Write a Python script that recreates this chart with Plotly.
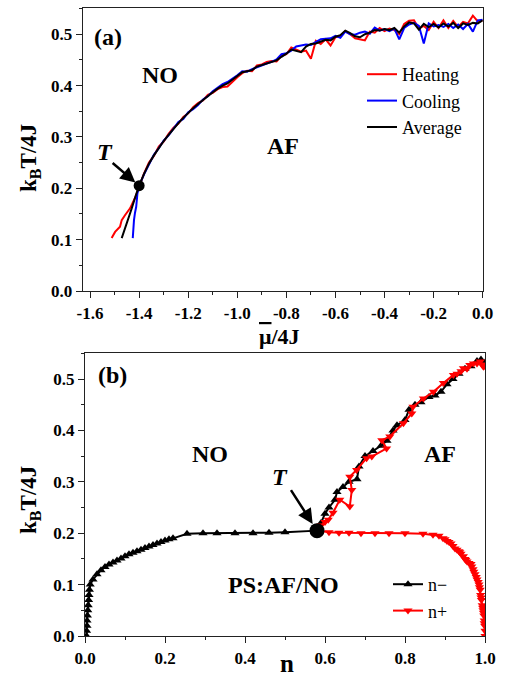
import plotly.graph_objects as go

# ---------------- panel (a) data ----------------
mu_upper = [-1.40, -1.38, -1.36, -1.34, -1.32, -1.30, -1.28, -1.26, -1.24, -1.22,
            -1.20, -1.18, -1.16, -1.14, -1.12, -1.10, -1.08, -1.06, -1.04, -1.02,
            -1.00, -0.98, -0.96, -0.94, -0.92, -0.90, -0.88, -0.86, -0.84, -0.82,
            -0.80, -0.78, -0.76, -0.74, -0.72, -0.70, -0.68, -0.66, -0.64, -0.62,
            -0.60, -0.58, -0.56, -0.54, -0.52, -0.50, -0.48, -0.46, -0.44, -0.42,
            -0.40, -0.38, -0.36, -0.34, -0.32, -0.30, -0.28, -0.26, -0.24, -0.22,
            -0.20, -0.18, -0.16, -0.14, -0.12, -0.10, -0.08, -0.06, -0.04, -0.02, 0.00]

avg_upper = [0.205, 0.228, 0.248, 0.264, 0.279, 0.292, 0.304, 0.316, 0.327, 0.337,
             0.347, 0.356, 0.364, 0.372, 0.380, 0.387, 0.394, 0.400, 0.404, 0.411,
             0.418, 0.426, 0.428, 0.430, 0.437, 0.440, 0.444, 0.447, 0.449, 0.456,
             0.462, 0.470, 0.468, 0.465, 0.476, 0.481, 0.482, 0.486, 0.489, 0.488,
             0.495, 0.498, 0.507, 0.502, 0.496, 0.494, 0.500, 0.503, 0.508, 0.507,
             0.510, 0.508, 0.512, 0.503, 0.515, 0.523, 0.521, 0.509, 0.520, 0.514,
             0.520, 0.513, 0.521, 0.515, 0.522, 0.512, 0.521, 0.518, 0.522, 0.521, 0.527]

heat_upper = [0.205, 0.229, 0.250, 0.263, 0.281, 0.291, 0.306, 0.318, 0.326, 0.339,
              0.346, 0.358, 0.366, 0.371, 0.382, 0.386, 0.393, 0.397, 0.398, 0.408,
              0.416, 0.424, 0.429, 0.428, 0.439, 0.441, 0.446, 0.448, 0.447, 0.458,
              0.461, 0.474, 0.470, 0.466, 0.468, 0.452, 0.487, 0.481, 0.490, 0.478,
              0.494, 0.497, 0.506, 0.500, 0.492, 0.490, 0.488, 0.505, 0.503, 0.512,
              0.506, 0.511, 0.508, 0.500, 0.520, 0.526, 0.527, 0.511, 0.516, 0.508,
              0.524, 0.512, 0.527, 0.512, 0.526, 0.514, 0.524, 0.521, 0.536, 0.525, 0.526]

cool_upper = [0.205, 0.227, 0.247, 0.265, 0.278, 0.293, 0.303, 0.315, 0.329, 0.335,
              0.348, 0.354, 0.362, 0.373, 0.379, 0.389, 0.396, 0.403, 0.407, 0.413,
              0.420, 0.428, 0.427, 0.432, 0.436, 0.439, 0.443, 0.446, 0.451, 0.461,
              0.463, 0.468, 0.476, 0.478, 0.480, 0.479, 0.484, 0.490, 0.491, 0.492,
              0.497, 0.493, 0.505, 0.500, 0.499, 0.503, 0.505, 0.501, 0.513, 0.507,
              0.510, 0.506, 0.511, 0.490, 0.512, 0.519, 0.522, 0.516, 0.482, 0.521,
              0.515, 0.518, 0.514, 0.520, 0.512, 0.519, 0.510, 0.520, 0.505, 0.527, 0.528]

heat_low_mu = [-1.512, -1.498, -1.478, -1.471, -1.457, -1.437, -1.417]
heat_low_t = [0.103, 0.115, 0.125, 0.138, 0.148, 0.161, 0.181]
cool_low_mu = [-1.426, -1.424, -1.421, -1.417, -1.412, -1.407]
cool_low_t = [0.103, 0.125, 0.138, 0.152, 0.164, 0.190]
avg_low_mu = [-1.471, -1.457, -1.444, -1.430, -1.417]
avg_low_t = [0.103, 0.122, 0.142, 0.161, 0.181]

heat_mu = heat_low_mu + mu_upper
heat_t = heat_low_t + heat_upper
cool_mu = cool_low_mu + mu_upper
cool_t = cool_low_t + cool_upper
avg_mu = avg_low_mu + mu_upper
avg_t = avg_low_t + avg_upper

tp_a = [-1.40, 0.205]

xa_ticks = [-1.6, -1.4, -1.2, -1.0, -0.8, -0.6, -0.4, -0.2, 0.0]
xa_labels = ["-1.6", "-1.4", "-1.2", "-1.0", "-0.8", "-0.6", "-0.4", "-0.2", "0.0"]
ya_ticks = [0.0, 0.1, 0.2, 0.3, 0.4, 0.5]
ya_labels = ["0.0", "0.1", "0.2", "0.3", "0.4", "0.5"]

# ---------------- panel (b) data ----------------
n_minus = [0.004, 0.004, 0.005, 0.005, 0.006, 0.007, 0.008, 0.009, 0.010, 0.011,
           0.013, 0.020, 0.030, 0.040, 0.050, 0.060, 0.070, 0.080, 0.090, 0.100,
           0.110, 0.120, 0.130, 0.140, 0.150, 0.160, 0.170, 0.180, 0.190, 0.200,
           0.210, 0.220, 0.255, 0.295, 0.330, 0.375, 0.420, 0.460, 0.500, 0.580,
           0.590, 0.600, 0.610, 0.625, 0.630, 0.645, 0.660, 0.680, 0.685, 0.700,
           0.720, 0.740, 0.755, 0.770, 0.780, 0.800, 0.810, 0.825, 0.840, 0.860,
           0.875, 0.890, 0.905, 0.920, 0.935, 0.950, 0.965, 0.980, 0.990, 1.000]
t_minus = [0.000, 0.010, 0.020, 0.030, 0.040, 0.050, 0.060, 0.070, 0.080, 0.090,
           0.100, 0.110, 0.120, 0.128, 0.134, 0.139, 0.143, 0.147, 0.151, 0.155,
           0.159, 0.162, 0.165, 0.168, 0.171, 0.174, 0.177, 0.180, 0.183, 0.186,
           0.188, 0.190, 0.199, 0.200, 0.200, 0.200, 0.200, 0.201, 0.202, 0.205,
           0.220, 0.238, 0.250, 0.265, 0.280, 0.290, 0.300, 0.305, 0.330, 0.350,
           0.360, 0.370, 0.380, 0.400, 0.410, 0.420, 0.440, 0.450, 0.455, 0.465,
           0.468, 0.475, 0.490, 0.500, 0.510, 0.520, 0.525, 0.535, 0.538, 0.532]

n_plus = [1.000, 1.000, 0.999, 0.998, 0.998, 0.997, 0.996, 0.995, 0.994, 0.993,
          0.991, 0.990, 0.989, 0.988, 0.986, 0.985, 0.983, 0.980, 0.978, 0.975,
          0.972, 0.970, 0.967, 0.965, 0.960, 0.955, 0.952, 0.950, 0.946, 0.940,
          0.937, 0.935, 0.930, 0.925, 0.920, 0.915, 0.910, 0.905, 0.900, 0.895,
          0.885, 0.870, 0.845, 0.800, 0.760, 0.725, 0.690,
          0.660, 0.635, 0.610, 0.580, 0.590, 0.600, 0.608, 0.620, 0.637, 0.662,
          0.667, 0.662, 0.679, 0.704, 0.717, 0.754, 0.742, 0.762, 0.796, 0.817,
          0.820, 0.846, 0.871, 0.896, 0.921, 0.930, 0.940, 0.946, 0.955, 0.962,
          0.971, 0.980, 0.988, 0.993, 0.996, 1.000]
t_plus = [0.000, 0.010, 0.020, 0.025, 0.030, 0.040, 0.045, 0.050, 0.055, 0.060,
          0.070, 0.075, 0.080, 0.090, 0.095, 0.100, 0.105, 0.110, 0.115, 0.120,
          0.125, 0.130, 0.135, 0.140, 0.142, 0.145, 0.148, 0.150, 0.155, 0.160,
          0.163, 0.165, 0.168, 0.170, 0.175, 0.180, 0.183, 0.185, 0.188, 0.190,
          0.195, 0.197, 0.199, 0.200, 0.200, 0.200, 0.200,
          0.201, 0.201, 0.202, 0.205, 0.215, 0.222, 0.226, 0.240, 0.265, 0.252,
          0.284, 0.310, 0.323, 0.346, 0.349, 0.365, 0.381, 0.388, 0.414, 0.433,
          0.446, 0.462, 0.475, 0.492, 0.508, 0.510, 0.515, 0.521, 0.520, 0.527,
          0.530, 0.530, 0.534, 0.528, 0.524, 0.525]

tp_b = [0.58, 0.205]

xb_ticks = [0.0, 0.2, 0.4, 0.6, 0.8, 1.0]
xb_labels = ["0.0", "0.2", "0.4", "0.6", "0.8", "1.0"]
yb_ticks = [0.0, 0.1, 0.2, 0.3, 0.4, 0.5]
yb_labels = ["0.0", "0.1", "0.2", "0.3", "0.4", "0.5"]

W, H = 505, 678
SERIF = "Liberation Serif"


def px(x):
    return x / W


def py(y):
    return 1 - y / H


fig = go.Figure()

fig.add_trace(go.Scatter(x=heat_mu, y=heat_t, mode="lines", name="Heating",
                         line=dict(color="#ff0000", width=2), xaxis="x", yaxis="y",
                         legend="legend"))
fig.add_trace(go.Scatter(x=cool_mu, y=cool_t, mode="lines", name="Cooling",
                         line=dict(color="#0000ff", width=2), xaxis="x", yaxis="y",
                         legend="legend"))
fig.add_trace(go.Scatter(x=avg_mu, y=avg_t, mode="lines", name="Average",
                         line=dict(color="#000000", width=2), xaxis="x", yaxis="y",
                         legend="legend"))
fig.add_trace(go.Scatter(x=[tp_a[0]], y=[tp_a[1]], mode="markers", showlegend=False,
                         marker=dict(color="black", size=11), xaxis="x", yaxis="y"))

fig.add_trace(go.Scatter(x=n_minus, y=t_minus, mode="lines+markers", name="n\u2212",
                         line=dict(color="black", width=2),
                         marker=dict(symbol="triangle-up", size=8, color="black"),
                         xaxis="x2", yaxis="y2", legend="legend2"))
fig.add_trace(go.Scatter(x=n_plus, y=t_plus, mode="lines+markers", name="n+",
                         line=dict(color="#ff0000", width=2),
                         marker=dict(symbol="triangle-down", size=8, color="#ff0000"),
                         xaxis="x2", yaxis="y2", legend="legend2"))
fig.add_trace(go.Scatter(x=[tp_b[0]], y=[tp_b[1]], mode="markers", showlegend=False,
                         marker=dict(color="black", size=15), xaxis="x2", yaxis="y2"))

tickfont = dict(family=SERIF, size=17, color="black", weight="bold")
axis_common = dict(showline=True, linecolor="#222", linewidth=1.3, mirror=True,
                   ticks="outside", ticklen=6, tickwidth=1.3, tickcolor="#222",
                   showgrid=False, zeroline=False, tickfont=tickfont,
                   automargin=False, tickmode="array")

fig.update_layout(
    width=W, height=H,
    margin=dict(l=0, r=0, t=0, b=0),
    paper_bgcolor="white", plot_bgcolor="white",
    xaxis=dict(domain=[px(82.7), px(482.7)], range=[-1.63, 0.0], anchor="y",
               tickvals=xa_ticks, ticktext=xa_labels,
               minor=dict(ticks="outside", ticklen=3, tickcolor="#222", dtick=0.1, tick0=0),
               **axis_common),
    yaxis=dict(domain=[py(291), py(8)], range=[0, 0.551], anchor="x",
               tickvals=ya_ticks, ticktext=ya_labels,
               minor=dict(ticks="outside", ticklen=3, tickcolor="#222", dtick=0.05, tick0=0),
               **axis_common),
    xaxis2=dict(domain=[px(85), px(485)], range=[0, 1.0], anchor="y2",
                tickvals=xb_ticks, ticktext=xb_labels,
                minor=dict(ticks="outside", ticklen=3, tickcolor="#222", dtick=0.1, tick0=0),
                **axis_common),
    yaxis2=dict(domain=[py(636), py(353.3)], range=[0, 0.55], anchor="x2",
                tickvals=yb_ticks, ticktext=yb_labels,
                minor=dict(ticks="outside", ticklen=3, tickcolor="#222", dtick=0.05, tick0=0),
                **axis_common),
    legend=dict(x=px(362), y=py(56), xanchor="left", yanchor="top",
                bgcolor="rgba(0,0,0,0)", font=dict(family=SERIF, size=18, color="black"),
                tracegroupgap=0, itemwidth=30),
    legend2=dict(x=px(388), y=py(566), xanchor="left", yanchor="top",
                 bgcolor="rgba(0,0,0,0)", font=dict(family=SERIF, size=18, color="black"),
                 tracegroupgap=0, itemwidth=30),
    showlegend=True,
)

ann_font = dict(family=SERIF, size=24, color="black")
title_font = dict(family=SERIF, size=23, color="black")

annotations = [
    # axis titles
    dict(x=px(30), y=py(158), text="<b>k<sub>B</sub>T/4J</b>", textangle=-90, font=title_font),
    dict(x=px(279), y=py(336),
         text="<b><span style='text-decoration:overline'>\u03bc</span>/4J</b>",
         font=dict(family=SERIF, size=22, color="black")),
    dict(x=px(30), y=py(500), text="<b>k<sub>B</sub>T/4J</b>", textangle=-90, font=title_font),
    dict(x=px(287), y=py(663), text="<b>n</b>", font=dict(family=SERIF, size=25, color="black")),
    # panel (a) labels
    dict(x=px(108), y=py(37), text="<b>(a)</b>", font=ann_font),
    dict(x=px(160), y=py(75), text="<b>NO</b>", font=ann_font),
    dict(x=px(283), y=py(146), text="<b>AF</b>", font=ann_font),
    dict(x=px(105), y=py(152), text="<b><i>T</i></b>", font=ann_font),
    # panel (b) labels
    dict(x=px(112), y=py(375), text="<b>(b)</b>", font=ann_font),
    dict(x=px(210), y=py(454), text="<b>NO</b>", font=ann_font),
    dict(x=px(440), y=py(454), text="<b>AF</b>", font=ann_font),
    dict(x=px(280), y=py(477), text="<b><i>T</i></b>", font=ann_font),
    dict(x=px(283), y=py(585), text="<b>PS:AF/NO</b>", font=ann_font),
]
for a in annotations:
    a.update(xref="paper", yref="paper", showarrow=False, xanchor="center", yanchor="middle")

# arrows pointing to the tricritical points
annotations.append(dict(x=tp_a[0], y=tp_a[1], xref="x", yref="y", ax=-28, ay=-24,
                        axref="pixel", ayref="pixel", text="", showarrow=True,
                        arrowhead=2, arrowsize=1.2, arrowwidth=2.5, arrowcolor="black",
                        standoff=5))
annotations.append(dict(x=tp_b[0], y=tp_b[1], xref="x2", yref="y2", ax=-27, ay=-42,
                        axref="pixel", ayref="pixel", text="", showarrow=True,
                        arrowhead=2, arrowsize=1.2, arrowwidth=2.5, arrowcolor="black",
                        standoff=8))
fig.update_layout(annotations=annotations)

fig.write_html("out.html")
